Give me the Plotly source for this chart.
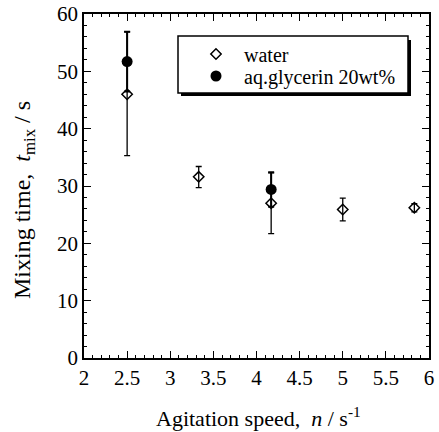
import plotly.graph_objects as go

# Data
water_n = [2.5, 3.33, 4.17, 5.0, 5.83]
water_t = [46.0, 31.6, 27.0, 25.9, 26.2]
water_err_plus = [10.9, 1.8, 5.3, 2.0, 0.7]
water_err_minus = [10.7, 1.9, 5.3, 2.0, 0.7]

gly_n = [2.5, 4.17]
gly_t = [51.7, 29.4]
gly_err_plus = [5.2, 3.0]
gly_err_minus = [5.2, 3.0]

x_ticks = [2, 2.5, 3, 3.5, 4, 4.5, 5, 5.5, 6]
y_ticks = [0, 10, 20, 30, 40, 50, 60]

FONT = "Liberation Serif"
W, H = 439, 432
L, R, T, B = 84, 10, 14, 74
PW, PH = W - L - R, H - T - B


def px(x):
    return (x - L) / PW


def py(y):
    return (H - B - y) / PH


fig = go.Figure()
fig.add_trace(go.Scatter(
    x=water_n, y=water_t, mode="markers", name="water", legend="legend",
    marker=dict(symbol="diamond-open", size=8, color="black", line=dict(width=1.5, color="black")),
    error_y=dict(type="data", array=water_err_plus, arrayminus=water_err_minus,
                 color="black", thickness=1.3, width=3),
))
fig.add_trace(go.Scatter(
    x=gly_n, y=gly_t, mode="markers", name="aq.glycerin 20wt%", legend="legend2",
    marker=dict(symbol="circle", size=11, color="black"),
    error_y=dict(type="data", array=gly_err_plus, arrayminus=gly_err_minus,
                 color="black", thickness=2, width=3),
))

# legend box with shadow
fig.add_shape(type="rect", xref="paper", yref="paper",
              x0=px(181), x1=px(411), y0=py(96), y1=py(40),
              fillcolor="black", line=dict(width=0), layer="above")
fig.add_shape(type="rect", xref="paper", yref="paper",
              x0=px(178), x1=px(408), y0=py(93), y1=py(36),
              fillcolor="white", line=dict(width=1.5, color="black"), layer="above")

axis_common = dict(
    showline=True, linecolor="black", linewidth=1.5, mirror="ticks",
    ticks="inside", ticklen=7, tickwidth=1.3, tickcolor="black",
    showgrid=False, zeroline=False, automargin=False,
    tickfont=dict(family=FONT, size=21, color="black"),
)

fig.update_xaxes(range=[2, 6], tickvals=x_ticks, ticktext=[str(v) for v in x_ticks],
                 minor=dict(ticks="inside", dtick=0.1, ticklen=3.5, tickcolor="black", tickwidth=1),
                 **axis_common)
fig.update_yaxes(range=[0, 60], tickvals=y_ticks,
                 minor=dict(ticks="inside", dtick=2, ticklen=3.5, tickcolor="black", tickwidth=1),
                 **axis_common)

fig.add_annotation(text="Agitation speed,  <i>n</i> / s<sup>-1</sup>", xref="paper", yref="paper",
                   x=px(258), y=py(417), xanchor="center", yanchor="middle", showarrow=False,
                   font=dict(family=FONT, size=22, color="black"))
fig.add_annotation(text="Mixing time,  <i>t</i><sub>mix</sub> / s", xref="paper", yref="paper",
                   x=px(24), y=py(200), xanchor="center", yanchor="middle", showarrow=False,
                   textangle=-90, font=dict(family=FONT, size=24, color="black"))

leg_common = dict(xanchor="left", yanchor="middle", bgcolor="rgba(0,0,0,0)", borderwidth=0,
                  font=dict(family=FONT, size=20, color="black"), itemwidth=46)

fig.update_layout(
    width=W, height=H,
    margin=dict(l=L, r=R, t=T, b=B),
    paper_bgcolor="white", plot_bgcolor="white",
    showlegend=True,
    legend=dict(x=px(188), y=py(54), **leg_common),
    legend2=dict(x=px(188), y=py(76), **leg_common),
)

fig.write_html("out.html", config={"displayModeBar": False},
               post_script="document.body.style.margin='0';")
